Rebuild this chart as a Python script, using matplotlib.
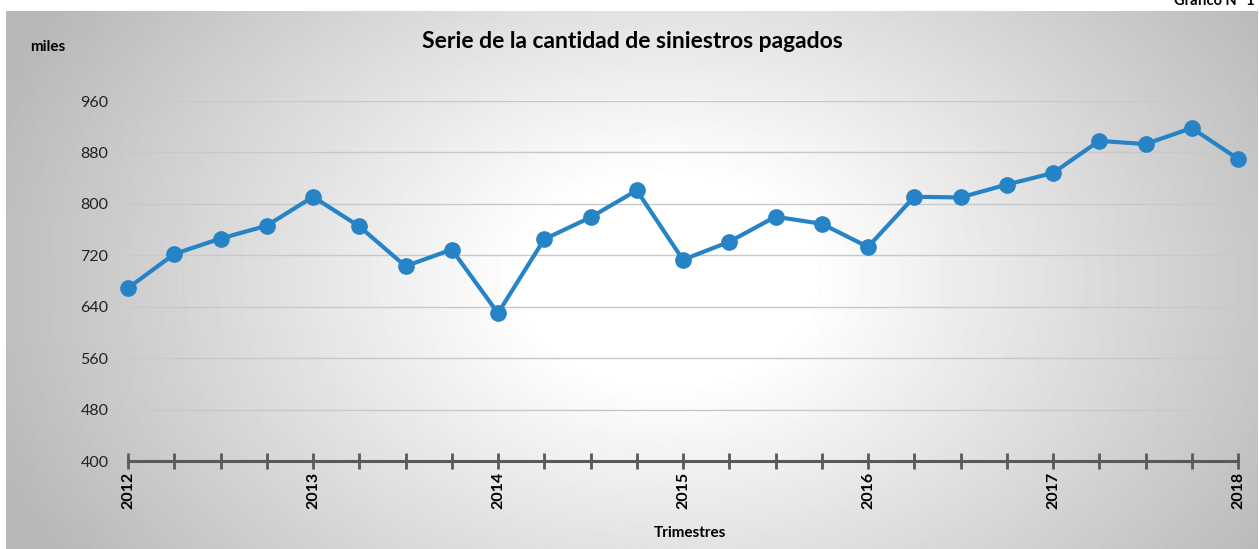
import numpy as np
import matplotlib.pyplot as plt

# quarterly series, thousands
years = ["2012", "2013", "2014", "2015", "2016", "2017", "2018"]
siniestros = [669, 722, 746, 766, 811, 765, 703, 729, 630, 745,
              779, 821, 713, 741, 780, 769, 733, 811, 810, 830,
              848, 898, 893, 918, 870]
yticks = [400, 480, 560, 640, 720, 800, 880, 960]

W, H = 1259, 549
fig = plt.figure(figsize=(W / 100, H / 100), dpi=100)
plt.rcParams['font.family'] = ['Lato', 'DejaVu Sans']

# radial grey background
bg = fig.add_axes([6 / W, 0, 1251 / W, 1 - 11 / H], zorder=0)
yy, xx = np.mgrid[0:538, 0:1251]
d = np.sqrt(((xx - 660) / 720.0) ** 2 + ((yy - 270) / 520.0) ** 2)
v = 1 - 0.28 * np.clip((d - 0.2) / 0.8, 0, 1)
bg.imshow(v, cmap='gray', vmin=0, vmax=1, aspect='auto', interpolation='bilinear')
bg.axis('off')

ax = fig.add_axes([128 / W, 1 - 461 / H, 1110 / W, 360 / H], zorder=1)
ax.patch.set_alpha(0)
x = np.arange(len(siniestros))
ax.plot(x, siniestros, color='#2683C6', lw=3, marker='o', ms=11,
        clip_on=False, zorder=3)

ax.set_xlim(0, len(siniestros) - 1)
ax.set_ylim(400, 960)
ax.set_yticks(yticks)
ax.set_yticklabels([str(t) for t in yticks], fontsize=11.5, color='#222222')
ax.yaxis.grid(True, color='#c8c8c8', lw=1)
ax.tick_params(axis='y', length=0, pad=14)

ax.set_xticks(x)
ax.set_xticklabels([years[i // 4] if i % 4 == 0 else "" for i in x],
                   rotation=90, fontsize=11.5, fontweight='bold')
ax.tick_params(axis='x', direction='inout', length=11, width=2,
               color='#595959', pad=2)
for s in ['top', 'right', 'left']:
    ax.spines[s].set_visible(False)
ax.spines['bottom'].set_color('#595959')
ax.spines['bottom'].set_linewidth(2.2)

fig.text(632 / W, 1 - 42 / H, "Serie de la cantidad de siniestros pagados",
         ha='center', va='center', fontsize=16.5, fontweight='bold')
fig.text(48 / W, 1 - 47 / H, "miles", ha='center', va='center',
         fontsize=11, fontweight='bold')
fig.text(690 / W, 1 - 533 / H, "Trimestres", ha='center', va='center',
         fontsize=11, fontweight='bold')
fig.text(1255 / W, 1 - 1 / H, "Gráfico N° 1", ha='right', va='center',
         fontsize=10.5, fontweight='bold')

plt.savefig('out.png', dpi=100)
